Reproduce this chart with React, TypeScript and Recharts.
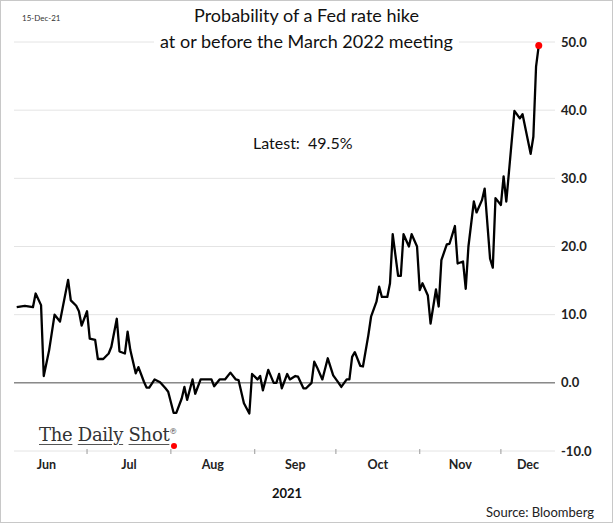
import { LineChart, Line, XAxis, YAxis, CartesianGrid, ReferenceLine } from "recharts";

// dates (MM-DD, 2021) and probability of a hike, %
const dates = [
  "06-05", "06-08", "06-11", "06-12", "06-14", "06-15", "06-17", "06-19", "06-21", "06-24",
  "06-25", "06-27", "06-28", "06-29", "07-01", "07-02", "07-04", "07-05", "07-07", "07-09",
  "07-10", "07-12", "07-13", "07-15", "07-16", "07-17", "07-19", "07-20", "07-22", "07-23",
  "07-24", "07-26", "07-28", "07-30", "07-31", "08-02", "08-03", "08-05", "08-06", "08-07",
  "08-09", "08-10", "08-12", "08-16", "08-17", "08-19", "08-21", "08-23", "08-25", "08-26",
  "08-28", "08-30", "08-31", "09-02", "09-03", "09-04", "09-06", "09-08", "09-09", "09-10",
  "09-11", "09-13", "09-14", "09-16", "09-17", "09-19", "09-20", "09-22", "09-23", "09-24",
  "09-26", "09-28", "09-30", "10-02", "10-03", "10-05", "10-06", "10-07", "10-08", "10-10",
  "10-11", "10-13", "10-14", "10-16", "10-17", "10-18", "10-20", "10-21", "10-22", "10-24",
  "10-25", "10-26", "10-28", "10-29", "10-31", "11-01", "11-02", "11-04", "11-05", "11-07",
  "11-08", "11-09", "11-11", "11-12", "11-14", "11-15", "11-17", "11-18", "11-19", "11-21",
  "11-22", "11-24", "11-25", "11-27", "11-28", "11-29", "12-01", "12-02", "12-03", "12-06",
  "12-08", "12-09", "12-12", "12-13", "12-14", "12-15",
];
const probability = [
  11.1, 11.3, 11.1, 13.1, 11.4, 1.0, 4.8, 10.0, 9.0, 15.1,
  12.1, 11.3, 10.5, 8.4, 10.5, 6.5, 6.3, 3.5, 3.5, 4.3,
  5.3, 9.4, 4.6, 4.3, 7.5, 4.8, 1.4, 2.3, 0.2, -0.7,
  -0.7, 0.5, 0.1, -0.8, -1.3, -4.4, -4.4, -2.3, -0.6, -2.5,
  0.5, -1.6, 0.5, 0.5, -0.5, 0.5, 0.5, 1.5, 0.5, 0.4,
  -3.0, -4.5, 1.3, 0.5, 1.0, -1.1, 1.9, 0.0, 0.0, 1.3,
  -0.8, 1.3, 0.5, 1.0, 0.9, -0.8, -0.8, 0.0, 3.1, 2.3,
  0.5, 3.6, 1.1, 0.0, -0.6, 0.5, 0.5, 3.8, 4.5, 2.5,
  2.4, 7.0, 9.7, 11.9, 14.1, 12.6, 12.6, 14.6, 21.8, 15.7,
  15.7, 21.8, 20.0, 21.8, 20.0, 13.6, 14.6, 12.8, 8.7, 13.7,
  11.2, 18.0, 20.3, 20.4, 23.0, 17.5, 17.8, 13.8, 20.0, 26.6,
  25.0, 26.8, 28.5, 18.2, 16.9, 27.1, 26.1, 30.3, 26.6, 39.9,
  38.8, 39.4, 33.6, 36.1, 46.4, 49.5,
];

const monthNames = ["Jun", "Jul", "Aug", "Sep", "Oct", "Nov", "Dec"];
const monthStarts = ["06-01", "07-01", "08-01", "09-01", "10-01", "11-01", "12-01"];
const yTicks = [-10, 0, 10, 20, 30, 40, 50];
const xStart = "06-04";
const xEnd = "12-21";

const dayOfYear = (md: string) => {
  const [m, d] = md.split("-").map(Number);
  return (Date.UTC(2021, m - 1, d) - Date.UTC(2021, 0, 1)) / 86400000 + 1;
};

const xMin = dayOfYear(xStart);
const xMax = dayOfYear(xEnd);
const startDays = monthStarts.map(dayOfYear);
const boundaryTicks = startDays.filter((d) => d > xMin);
const labelTicks = startDays.map((d, i) =>
  (d + (i < startDays.length - 1 ? startDays[i + 1] : xMax)) / 2
);
const allTicks = [...boundaryTicks, ...labelTicks].sort((a, b) => a - b);

const data = dates.map((d, i) => ({ day: dayOfYear(d), value: probability[i] }));
const lastIndex = data.length - 1;

const font = "Lato, 'Open Sans', sans-serif";

// month boundaries get a small tick mark across the axis, mid-months get the name
const MonthTick = (props: any) => {
  const { x, y, payload } = props;
  const li = labelTicks.indexOf(payload.value);
  if (li < 0) {
    return <line x1={x} x2={x} y1={y - 2} y2={y + 3} stroke="#9a9a9a" strokeWidth={1} />;
  }
  return (
    <text x={x} y={y + 9} textAnchor="middle" dy="0.71em" fontFamily={font} fontWeight={700} fontSize={12.5} fill="#222">
      {monthNames[li]}
    </text>
  );
};

export default function App() {
  const underline = { textDecoration: "underline", textDecorationColor: "#555", textUnderlineOffset: 3 };
  return (
    <div
      style={{
        position: "absolute",
        left: 0,
        top: 0,
        width: 611,
        height: 521,
        border: "1px solid #c8c8c8",
        background: "#fff",
        fontFamily: font,
        color: "#111",
      }}
    >
      <LineChart width={611} height={521} data={data} margin={{ top: 41, right: 0, left: 13, bottom: 41 }}>
        <CartesianGrid vertical={false} stroke="#e4e4e4" strokeWidth={1} />
        <XAxis
          xAxisId="bounds"
          dataKey="day"
          type="number"
          domain={[xMin, xMax]}
          height={0}
          tick={false}
          tickLine={false}
          stroke="#b5b5b5"
          allowDataOverflow
        />
        <XAxis
          xAxisId="labels"
          dataKey="day"
          type="number"
          domain={[xMin, xMax]}
          ticks={allTicks}
          height={30}
          axisLine={false}
          tickLine={false}
          tickSize={0}
          tickMargin={0}
          tick={<MonthTick />}
          interval={0}
          allowDataOverflow
        />
        <YAxis
          orientation="right"
          width={57}
          domain={[-10, 50]}
          ticks={yTicks}
          axisLine={false}
          tickLine={false}
          tickSize={0}
          tickMargin={6}
          tickFormatter={(v: number) => v.toFixed(1)}
          tick={{ fontFamily: font, fontWeight: 700, fontSize: 13, fill: "#222", textAnchor: "start" }}
        />
        <ReferenceLine y={0} xAxisId="bounds" stroke="#8a8a8a" strokeWidth={1.5} />
        <Line
          xAxisId="bounds"
          type="linear"
          dataKey="value"
          stroke="#000"
          strokeWidth={2.3}
          strokeLinejoin="round"
          isAnimationActive={false}
          dot={(p: any) =>
            p.index === lastIndex ? (
              <circle key={`dot-${p.index}`} cx={p.cx} cy={p.cy} r={3.5} fill="#ff0000" stroke="none" />
            ) : (
              <g key={`dot-${p.index}`} />
            )
          }
          activeDot={false}
        />
      </LineChart>

      <div style={{ position: "absolute", left: 21, top: 12, fontSize: 8, color: "#333", lineHeight: "10px" }}>15-Dec-21</div>

      <div style={{ position: "absolute", left: 0, top: 1, width: 611, textAlign: "center", fontSize: 18, lineHeight: "26px" }}>
        <span style={{ background: "#fff", padding: "0 6px" }}>Probability of a Fed rate hike</span>
        <br />
        <span style={{ background: "#fff", padding: "0 6px" }}>at or before the March 2022 meeting</span>
      </div>

      <div style={{ position: "absolute", left: 252, top: 132, fontSize: 16, whiteSpace: "pre" }}>
        {`Latest:  ${probability[lastIndex].toFixed(1)}%`}
      </div>

      <div
        style={{
          position: "absolute",
          left: 38,
          top: 420,
          fontFamily: "'DejaVu Serif', 'Liberation Serif', serif",
          fontSize: 18,
          letterSpacing: -0.3,
          color: "#333",
          whiteSpace: "nowrap",
          lineHeight: "22px",
        }}
      >
        <span style={underline}>The</span> <span style={underline}>Daily</span>{" "}
        <span style={underline}>Shot</span>
        <sup style={{ fontSize: 8 }}>®</sup>
      </div>
      <div style={{ position: "absolute", left: 170, top: 442, width: 6, height: 6, borderRadius: 3, background: "#ff0000" }} />

      <div style={{ position: "absolute", left: 271, top: 484, fontSize: 13, fontWeight: 700 }}>2021</div>

      <div style={{ position: "absolute", right: 18, top: 503, fontSize: 13, color: "#222" }}>Source: Bloomberg</div>
    </div>
  );
}
